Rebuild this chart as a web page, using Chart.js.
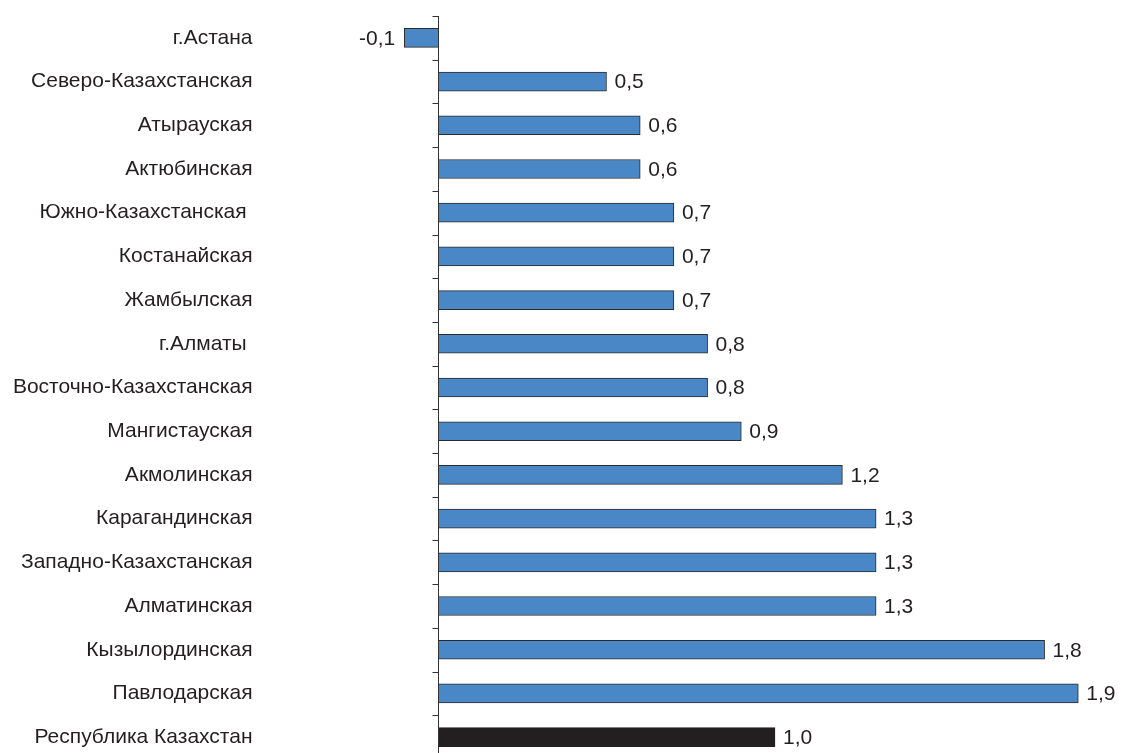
<!DOCTYPE html>
<html>
<head>
<meta charset="utf-8">
<script src="https://cdn.jsdelivr.net/npm/chart.js@4/dist/chart.umd.min.js"></script>
<style>
  html, body { margin: 0; padding: 0; background: #fff; overflow: hidden; }
  #wrap { position: relative; width: 1121px; height: 759px; }
</style>
</head>
<body>
<div id="wrap"><canvas id="c"></canvas></div>
<script>
const categories = [
  "г.Астана",
  "Северо-Казахстанская",
  "Атырауская",
  "Актюбинская",
  "Южно-Казахстанская ",
  "Костанайская",
  "Жамбылская",
  "г.Алматы ",
  "Восточно-Казахстанская",
  "Мангистауская",
  "Акмолинская",
  "Карагандинская",
  "Западно-Казахстанская",
  "Алматинская",
  "Кызылординская",
  "Павлодарская",
  "Республика Казахстан"
];
const values = [-0.1, 0.5, 0.6, 0.6, 0.7, 0.7, 0.7, 0.8, 0.8, 0.9, 1.2, 1.3, 1.3, 1.3, 1.8, 1.9, 1.0];
const xMin = -0.5;
const xMax = 2.0;

const BLUE = '#4a87c7';
const DARK = '#231f20';
const FONT = '"Liberation Sans", Arial, Helvetica, sans-serif';
const FSIZE = 21;

const fmt = v => v.toFixed(1).replace('.', ',');

const axisPlugin = {
  id: 'zeroAxis',
  afterDatasetsDraw(chart) {
    const ctx = chart.ctx;
    const xs = chart.scales.x, ys = chart.scales.y;
    const x0 = Math.round(xs.getPixelForValue(0)) + 0.5;
    const top = chart.chartArea.top, bottom = chart.chartArea.bottom;
    ctx.save();
    ctx.strokeStyle = '#333';
    ctx.lineWidth = 1;
    ctx.beginPath();
    ctx.moveTo(x0, top);
    ctx.lineTo(x0, bottom);
    for (let i = 0; i <= categories.length; i++) {
      const y = Math.round(ys.getPixelForValue(i - 0.5)) + 0.5;
      ctx.moveTo(x0 - 6, y);
      ctx.lineTo(x0, y);
    }
    ctx.stroke();
    // value labels
    ctx.fillStyle = DARK;
    ctx.font = FSIZE + 'px ' + FONT;
    ctx.textBaseline = 'middle';
    const meta = chart.getDatasetMeta(0);
    meta.data.forEach((bar, i) => {
      const v = values[i];
      if (v >= 0) {
        ctx.textAlign = 'left';
        ctx.fillText(fmt(v), bar.x + 8, bar.y + 1);
      } else {
        ctx.textAlign = 'right';
        ctx.fillText(fmt(v), bar.x - 9, bar.y + 1);
      }
    });
    ctx.restore();
  }
};

new Chart(document.getElementById('c'), {
  type: 'bar',
  data: {
    labels: categories,
    datasets: [{
      data: values,
      backgroundColor: values.map((v, i) => i === values.length - 1 ? DARK : BLUE),
      borderColor: values.map((v, i) => i === values.length - 1 ? DARK : '#2b2b2b'),
      borderWidth: 1,
      barThickness: 19
    }]
  },
  options: {
    indexAxis: 'y',
    responsive: true,
    maintainAspectRatio: false,
    animation: false,
    layout: { padding: { top: 16, right: 9, bottom: 0, left: 0 } },
    plugins: { legend: { display: false }, tooltip: { enabled: false } },
    scales: {
      x: {
        display: false,
        min: xMin,
        max: xMax
      },
      y: {
        grid: { display: false, drawTicks: false },
        border: { display: false },
        ticks: {
          color: DARK,
          font: { family: FONT, size: FSIZE },
          padding: 17,
          autoSkip: false
        },
        afterFit(scale) {
          scale.width = 269.5;
          scale.paddingTop = 0;
          scale.paddingBottom = 0;
        }
      }
    }
  },
  plugins: [axisPlugin]
});
</script>
</body>
</html>
